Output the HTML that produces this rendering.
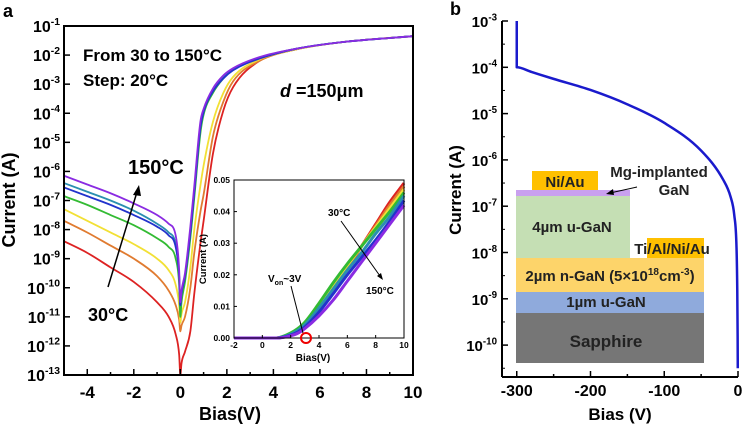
<!DOCTYPE html>
<html><head><meta charset="utf-8"><style>
body{margin:0;background:#fff}
svg{display:block;font-family:"Liberation Sans",Arial,sans-serif;font-weight:bold}
</style></head><body>
<svg id="s" width="743" height="426" viewBox="0 0 743 426" xmlns="http://www.w3.org/2000/svg">
<g id="ga"></g>
<g id="gi"></g>
<g id="gb"></g>
</svg>
<script>
// Panel a data
const biasA = [-5,-4,-3,-2,-1,-0.5,-0.2,-0.05,0,0.05,0.2,0.43,0.6,0.86,1.0,1.4,1.85,2.27,3.4,5,7,10];
const seriesNames = ['30C','50C','70C','90C','110C','130C','150C'];
const seriesColors = ['#dd2222','#e07b30','#f2e035','#33bb33','#2a8fb0','#2233cc','#8a2be2'];
const logI_30  = [-8.4,-8.8,-9.3,-9.8,-10.5,-11.0,-11.6,-12.3,-13,-12.6,-12.2,-11.5,-10.2,-8.5,-7.7,-5.4,-3.9,-3.1,-2.2,-1.8,-1.55,-1.35];
const logI_50  = [-7.7,-8.1,-8.55,-9.0,-9.6,-10.1,-10.6,-11.1,-11.5,-11.3,-11,-10,-8.8,-7.4,-6.8,-4.8,-3.6,-2.9,-2.2,-1.8,-1.55,-1.35];
const logI_70  = [-7.3,-7.7,-8.1,-8.5,-9.0,-9.4,-9.9,-10.6,-11.2,-10.9,-10.5,-9.3,-8.0,-6.5,-5.8,-4.3,-3.3,-2.75,-2.15,-1.8,-1.55,-1.35];
const logI_90  = [-6.85,-7.15,-7.5,-7.85,-8.3,-8.6,-9.0,-9.9,-11.0,-10.5,-9.8,-8.3,-6.9,-4.7,-4.05,-3.3,-2.8,-2.5,-2.1,-1.78,-1.55,-1.35];
const logI_110 = [-6.4,-6.7,-7.0,-7.35,-7.8,-8.1,-8.5,-9.6,-10.6,-10.2,-9.6,-8.1,-6.7,-4.5,-3.95,-3.2,-2.75,-2.48,-2.1,-1.78,-1.55,-1.35];
const logI_130 = [-6.55,-6.85,-7.15,-7.5,-7.9,-8.2,-8.6,-9.6,-10.6,-10.2,-9.6,-8.1,-6.7,-4.5,-3.95,-3.25,-2.8,-2.52,-2.12,-1.78,-1.55,-1.35];
const logI_150 = [-6.15,-6.45,-6.75,-7.1,-7.5,-7.8,-8.2,-9.4,-10.5,-10.1,-9.5,-7.9,-6.5,-4.3,-3.85,-3.15,-2.7,-2.45,-2.07,-1.78,-1.55,-1.35];
const allLogI = [logI_30,logI_50,logI_70,logI_90,logI_110,logI_130,logI_150];
const xTicksA = [-4,-2,0,2,4,6,8,10];
const yExpA = [-1,-2,-3,-4,-5,-6,-7,-8,-9,-10,-11,-12,-13];
// Inset data
const biasIn = [-2,0,1,1.5,2,2.5,3,4,5,6,7,8,9,10];
const cur_30  = [0,0,0,0.0003,0.001,0.002,0.004,0.0095,0.016,0.022,0.029,0.036,0.043,0.049];
const cur_50  = [0,0,0,0.0004,0.0012,0.0025,0.0045,0.0100,0.0165,0.0225,0.029,0.0355,0.042,0.048];
const cur_70  = [0,0,0,0.0005,0.0014,0.0028,0.0048,0.0105,0.017,0.023,0.029,0.035,0.041,0.047];
const cur_90  = [0,0,0,0.0006,0.0016,0.003,0.005,0.011,0.0175,0.0235,0.029,0.0345,0.040,0.046];
const cur_110 = [0,0,0,0.0004,0.0012,0.0024,0.0042,0.0095,0.0155,0.0215,0.027,0.033,0.0385,0.045];
const cur_130 = [0,0,0,0.0003,0.0009,0.0019,0.0035,0.0082,0.014,0.020,0.0255,0.031,0.037,0.0435];
const cur_150 = [0,0,0,0.0002,0.0007,0.0015,0.003,0.007,0.012,0.018,0.024,0.030,0.036,0.042];
const allCur = [cur_30,cur_50,cur_70,cur_90,cur_110,cur_130,cur_150];
const xTicksIn = [-2,0,2,4,6,8,10];
const yTicksIn = ['0.00','0.01','0.02','0.03','0.04','0.05'];
// Panel b data
const biasB = [-300,-300,-280,-250,-200,-150,-100,-50,-20,-10,-5,-2,-1,-0.5,-0.3];
const logIB = [-3,-4,-4.1,-4.25,-4.49,-4.8,-5.2,-5.8,-6.43,-6.8,-7.2,-7.9,-8.8,-9.8,-10.5];
const xTicksB = [-300,-200,-100,0];
const yExpB = [-3,-4,-5,-6,-7,-8,-9,-10];

const NS='http://www.w3.org/2000/svg';
function mk(parent,tag,attrs,txt){const e=document.createElementNS(NS,tag);for(const k in attrs)e.setAttribute(k,attrs[k]);if(txt!==undefined)e.textContent=txt;parent.appendChild(e);return e;}
function monoPath(P){
  const n=P.length;if(n<2)return '';
  const d=[],m=[];
  for(let i=0;i<n-1;i++){const dx=P[i+1][0]-P[i][0];d.push(dx===0?0:(P[i+1][1]-P[i][1])/dx);}
  m[0]=d[0];m[n-1]=d[n-2];
  for(let i=1;i<n-1;i++){m[i]=(d[i-1]*d[i]<=0)?0:(d[i-1]+d[i])/2;}
  for(let i=0;i<n-1;i++){if(d[i]===0){m[i]=0;m[i+1]=0;continue;}const a=m[i]/d[i],b=m[i+1]/d[i],s=a*a+b*b;if(s>9){const t=3/Math.sqrt(s);m[i]=t*a*d[i];m[i+1]=t*b*d[i];}}
  let s='M'+P[0][0]+','+P[0][1];
  for(let i=0;i<n-1;i++){const dx=P[i+1][0]-P[i][0];
    if(dx===0){s+=' L'+P[i+1][0]+','+P[i+1][1];continue;}
    s+=' C'+(P[i][0]+dx/3)+','+(P[i][1]+m[i]*dx/3)+' '+(P[i+1][0]-dx/3)+','+(P[i+1][1]-m[i+1]*dx/3)+' '+P[i+1][0]+','+P[i+1][1];}
  return s;
}
function expLabel(g,x,y,exp,size){
  const t=mk(g,'text',{x:x,y:y,'text-anchor':'end','font-size':size});
  
  
  mk(t,'tspan',{},'10');
  mk(t,'tspan',{'font-size':size*0.65,dy:-size*0.45},String(exp));
}
const ga=document.getElementById('ga'),gi=document.getElementById('gi'),gb=document.getElementById('gb');

// ---- Panel a
const aL=64,aR=413,aT=26,aB=375;
const xa=v=>aL+(v+5)/15*(aR-aL);
const ya=l=>aT+(-1-l)/12*(aB-aT);
mk(ga,'text',{x:3,y:17,'font-size':18},'a');
allLogI.forEach((s,i)=>{
  const p=mk(ga,'path',{d:monoPath(s.map((l,j)=>[xa(biasA[j]),ya(Math.max(l,-13))])),fill:'none',stroke:seriesColors[i],'stroke-width':1.8,'stroke-linejoin':'round'});
  
  
});
const fa=mk(ga,'rect',{x:aL,y:aT,width:aR-aL,height:aB-aT,fill:'none',stroke:'#000','stroke-width':2});


for(let v=-5;v<=10;v++){const x=xa(v);mk(ga,'line',{x1:x,x2:x,y1:aB,y2:aB-(v%2===0?6:3),stroke:'#000','stroke-width':1.5});}
xTicksA.forEach(v=>{const t=mk(ga,'text',{x:xa(v),y:398,'text-anchor':'middle','font-size':17},String(v));
  });
yExpA.forEach(e=>{const y=ya(e);mk(ga,'line',{x1:aL,x2:aL+6,y1:y,y2:y,stroke:'#000','stroke-width':1.5});expLabel(ga,60,y+6,e,16);});
let t;
t=mk(ga,'text',{x:230,y:420,'text-anchor':'middle','font-size':18},'Bias(V)');
t=mk(ga,'text',{x:0,y:0,'text-anchor':'middle','font-size':18,transform:'translate(15,200) rotate(-90)'},'Current (A)');
t=mk(ga,'text',{x:83,y:61,'font-size':17},'From 30 to 150°C');
t=mk(ga,'text',{x:83,y:86,'font-size':17},'Step: 20°C');
t=mk(ga,'text',{x:280,y:97,'font-size':18});
mk(t,'tspan',{'font-style':'italic'},'d');mk(t,'tspan',{},' =150μm');
t=mk(ga,'text',{x:128,y:174,'font-size':20},'150°C');
t=mk(ga,'text',{x:88,y:321,'font-size':18},'30°C');
mk(ga,'line',{x1:108,y1:287,x2:137,y2:192,stroke:'#000','stroke-width':1.5});
mk(ga,'polygon',{points:'139,185 133,195 141,196',fill:'#000'});

// ---- Inset
const iL=234,iR=404,iT=180,iB=338;
const xi=v=>iL+(v+2)/12*(iR-iL);
const yi=v=>iB-v/0.05*(iB-iT);
mk(gi,'rect',{x:iL,y:iT,width:iR-iL,height:iB-iT,fill:'#fff'});
allCur.forEach((s,i)=>{
  const p=mk(gi,'path',{d:monoPath(s.map((c,j)=>[xi(biasIn[j]),yi(c)])),fill:'none',stroke:seriesColors[i],'stroke-width':3,'stroke-linejoin':'round'});
  
  
});
mk(gi,'rect',{x:iL,y:iT,width:iR-iL,height:iB-iT,fill:'none',stroke:'#000','stroke-width':1});
xTicksIn.forEach(v=>{mk(gi,'line',{x1:xi(v),x2:xi(v),y1:iB,y2:iB-3,stroke:'#000'});
  const tt=mk(gi,'text',{x:xi(v),y:iB+10,'text-anchor':'middle','font-size':8.5},String(v));});
yTicksIn.forEach((s,k)=>{const y=yi(k*0.01);mk(gi,'line',{x1:iL,x2:iL+3,y1:y,y2:y,stroke:'#000'});
  const tt=mk(gi,'text',{x:iL-4,y:y+3,'text-anchor':'end','font-size':8.5},s);});
t=mk(gi,'text',{x:313,y:361,'text-anchor':'middle','font-size':10},'Bias(V)');
t=mk(gi,'text',{x:0,y:0,'text-anchor':'middle','font-size':9.5,transform:'translate(206,259) rotate(-90)'},'Current (A)');
t=mk(gi,'text',{x:328,y:216,'font-size':10},'30°C');
t=mk(gi,'text',{x:366,y:294,'font-size':10},'150°C');
mk(gi,'line',{x1:341,y1:221,x2:380,y2:276,stroke:'#000','stroke-width':1});
mk(gi,'polygon',{points:'383,280 377,276 381,273',fill:'#000'});
t=mk(gi,'text',{x:268,y:282,'font-size':10});
mk(t,'tspan',{},'V');mk(t,'tspan',{'font-size':7,dy:3},'on');mk(t,'tspan',{dy:-3},'~3V');
mk(gi,'line',{x1:291,y1:286,x2:303,y2:333,stroke:'#000','stroke-width':1});
mk(gi,'circle',{cx:306,cy:338,r:5,fill:'none',stroke:'#e00','stroke-width':2});

// ---- Panel b
const bL=502,bR=738,bT=21,bB=377;
const xb=v=>bL+(v+320)/320*(bR-bL);
const yb=l=>bT+(-3-l)*46.3;
mk(gb,'text',{x:450,y:15,'font-size':18},'b');
const layers=[[516,196,114,62,'#c5dfb4'],[516,258,188,34,'#fdd46a'],[516,292,188,21,'#8faadc'],[516,313,188,50,'#767676'],[532,171,66,19,'#ffc000'],[516,190,114,6,'#c9a0ef'],[647,238,57,20,'#ffc000']];
const lnames=['u-gan-4um-layer','n-gan-layer','u-gan-1um-layer','sapphire-layer','ni-au-contact','mg-implanted-layer','ti-al-ni-au-contact'];
layers.forEach((r,i)=>{const e=mk(gb,'rect',{x:r[0],y:r[1],width:r[2],height:r[3],fill:r[4]});});
const dt=[[565,187,'Ni/Au',15],[572,232,'4µm u-GaN',15],[606,307,'1µm u-GaN',15],[606,347,'Sapphire',17],[672,254,'Ti/Al/Ni/Au',15],[659,177,'Mg-implanted',15],[674,195,'GaN',15]];
dt.forEach(d=>{const e=mk(gb,'text',{x:d[0],y:d[1],'text-anchor':'middle','font-size':d[3],fill:'#222'},d[2]);});
t=mk(gb,'text',{x:610,y:281,'text-anchor':'middle','font-size':15,fill:'#222'});
mk(t,'tspan',{},'2µm n-GaN (5×10');mk(t,'tspan',{'font-size':10,dy:-6},'18');mk(t,'tspan',{dy:6},'cm');mk(t,'tspan',{'font-size':10,dy:-6},'-3');mk(t,'tspan',{dy:6},')');
mk(gb,'line',{x1:637,y1:187,x2:610,y2:193,stroke:'#000','stroke-width':1});
mk(gb,'polygon',{points:'606,194 613,189 614,195',fill:'#000'});
const pb=mk(gb,'path',{d:monoPath(biasB.map((v,j)=>[xb(v),yb(logIB[j])])),fill:'none',stroke:'#1a1acc','stroke-width':2.5,'stroke-linejoin':'round'});


mk(gb,'line',{x1:bL,y1:bT,x2:bL,y2:bB,stroke:'#000','stroke-width':2});
mk(gb,'line',{x1:bL,y1:bB,x2:bR,y2:bB,stroke:'#000','stroke-width':2});
for(let v=-300;v<=0;v+=50){const x=xb(v);mk(gb,'line',{x1:x,x2:x,y1:bB,y2:bB-(v%100===0?6:3),stroke:'#000','stroke-width':1.5});}
xTicksB.forEach(v=>{const tt=mk(gb,'text',{x:xb(v),y:396,'text-anchor':'middle','font-size':16},String(v));});
yExpB.forEach(e=>{const y=yb(e);mk(gb,'line',{x1:bL,x2:bL+6,y1:y,y2:y,stroke:'#000','stroke-width':1.5});expLabel(gb,497,y+6,e,15);});
for(let e=-3;e>-10.6;e-=0.5){if(e%1!==0){const y=yb(e);mk(gb,'line',{x1:bL,x2:bL+3,y1:y,y2:y,stroke:'#000'});}}
t=mk(gb,'text',{x:620,y:420,'text-anchor':'middle','font-size':17},'Bias (V)');
t=mk(gb,'text',{x:0,y:0,'text-anchor':'middle','font-size':17,transform:'translate(461,190) rotate(-90)'},'Current (A)');
</script>
</body></html>
